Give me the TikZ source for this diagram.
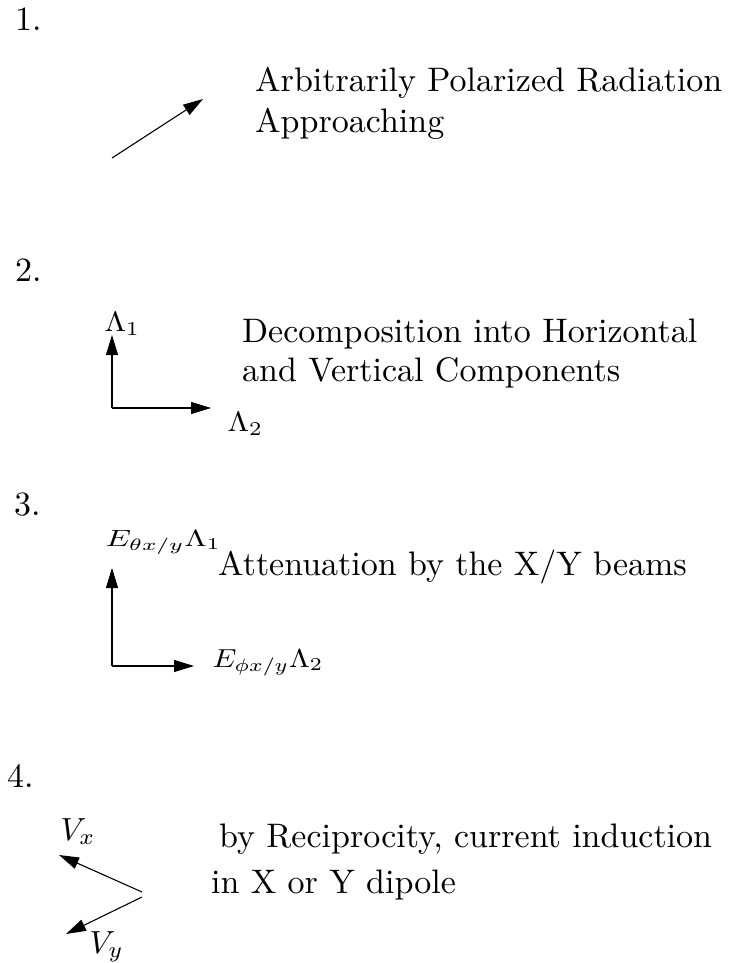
\documentclass[tikz,border=0pt]{standalone}
\usepackage{fontspec}
\setmainfont{lmroman10-regular}[Extension=.otf]
\usetikzlibrary{arrows.meta}
\tikzset{
  txt/.style={inner sep=0pt, anchor=base west, font=\fontsize{34}{40}\selectfont},
  mth/.style={inner sep=0pt, anchor=base west, font=\fontsize{10}{12}\selectfont},
  arr/.style={line width=1.1pt, -{Triangle[length=20pt,width=12pt]}},
}
\begin{document}
\begin{tikzpicture}[x=1pt,y=-1pt]
\useasboundingbox (0,0) rectangle (740,963);
% ---- 1 ----
\node[txt] (n1) at (15,31) {1.};
\node[txt] (t1a) at (255,92) {Arbitrarily Polarized Radiation};
\node[txt] (t1b) at (255,132) {Approaching};
\coordinate (a1s) at (112,158);
\coordinate (a1e) at (203,99);
\draw[arr] (a1s) -- (a1e);
% ---- 2 ----
\node[txt] (n2) at (15,281) {2.};
\coordinate (o2) at (112,408);
\coordinate (v2) at (112,335);
\coordinate (h2) at (211,408);
\draw[arr] (o2) -- (v2);
\draw[arr] (o2) -- (h2);
\node[mth, xscale=3.1, yscale=2.8] (L1) at (104,331) {$\Lambda_1$};
\node[mth, xscale=3.1, yscale=2.8] (L2) at (227,431) {$\Lambda_2$};
\node[txt] (t2a) at (242,342) {Decomposition into Horizontal};
\node[txt] (t2b) at (242,381) {and Vertical Components};
% ---- 3 ----
\node[txt] (n3) at (14,515) {3.};
\coordinate (o3) at (112,666);
\coordinate (v3) at (112,568);
\coordinate (h3) at (194,666);
\draw[arr] (o3) -- (v3);
\draw[arr] (o3) -- (h3);
\node[mth, xscale=3.19, yscale=2.35] (E1) at (105,546) {$E_{\theta x/y}\Lambda_1$};
\node[mth, xscale=3.0, yscale=2.6] (E2) at (212,667) {$E_{\phi x/y}\Lambda_2$};
\node[txt] (t3) at (218,575) {Attenuation by the X/Y beams};
% ---- 4 ----
\node[txt] (n4) at (7,787) {4.};
\coordinate (o4a) at (142,892);
\coordinate (tx) at (59,855);
\coordinate (o4b) at (142,897);
\coordinate (ty) at (66,934);
\draw[arr] (o4a) -- (tx);
\draw[arr] (o4b) -- (ty);
\node[mth, scale=3.2] (Vx) at (60,840) {$V_x$};
\node[mth, scale=3.2] (Vy) at (89,953) {$V_y$};
\node[txt] (t4a) at (219,847) {by Reciprocity, current induction};
\node[txt] (t4b) at (211,893) {in X or Y dipole};
\end{tikzpicture}
\end{document}
